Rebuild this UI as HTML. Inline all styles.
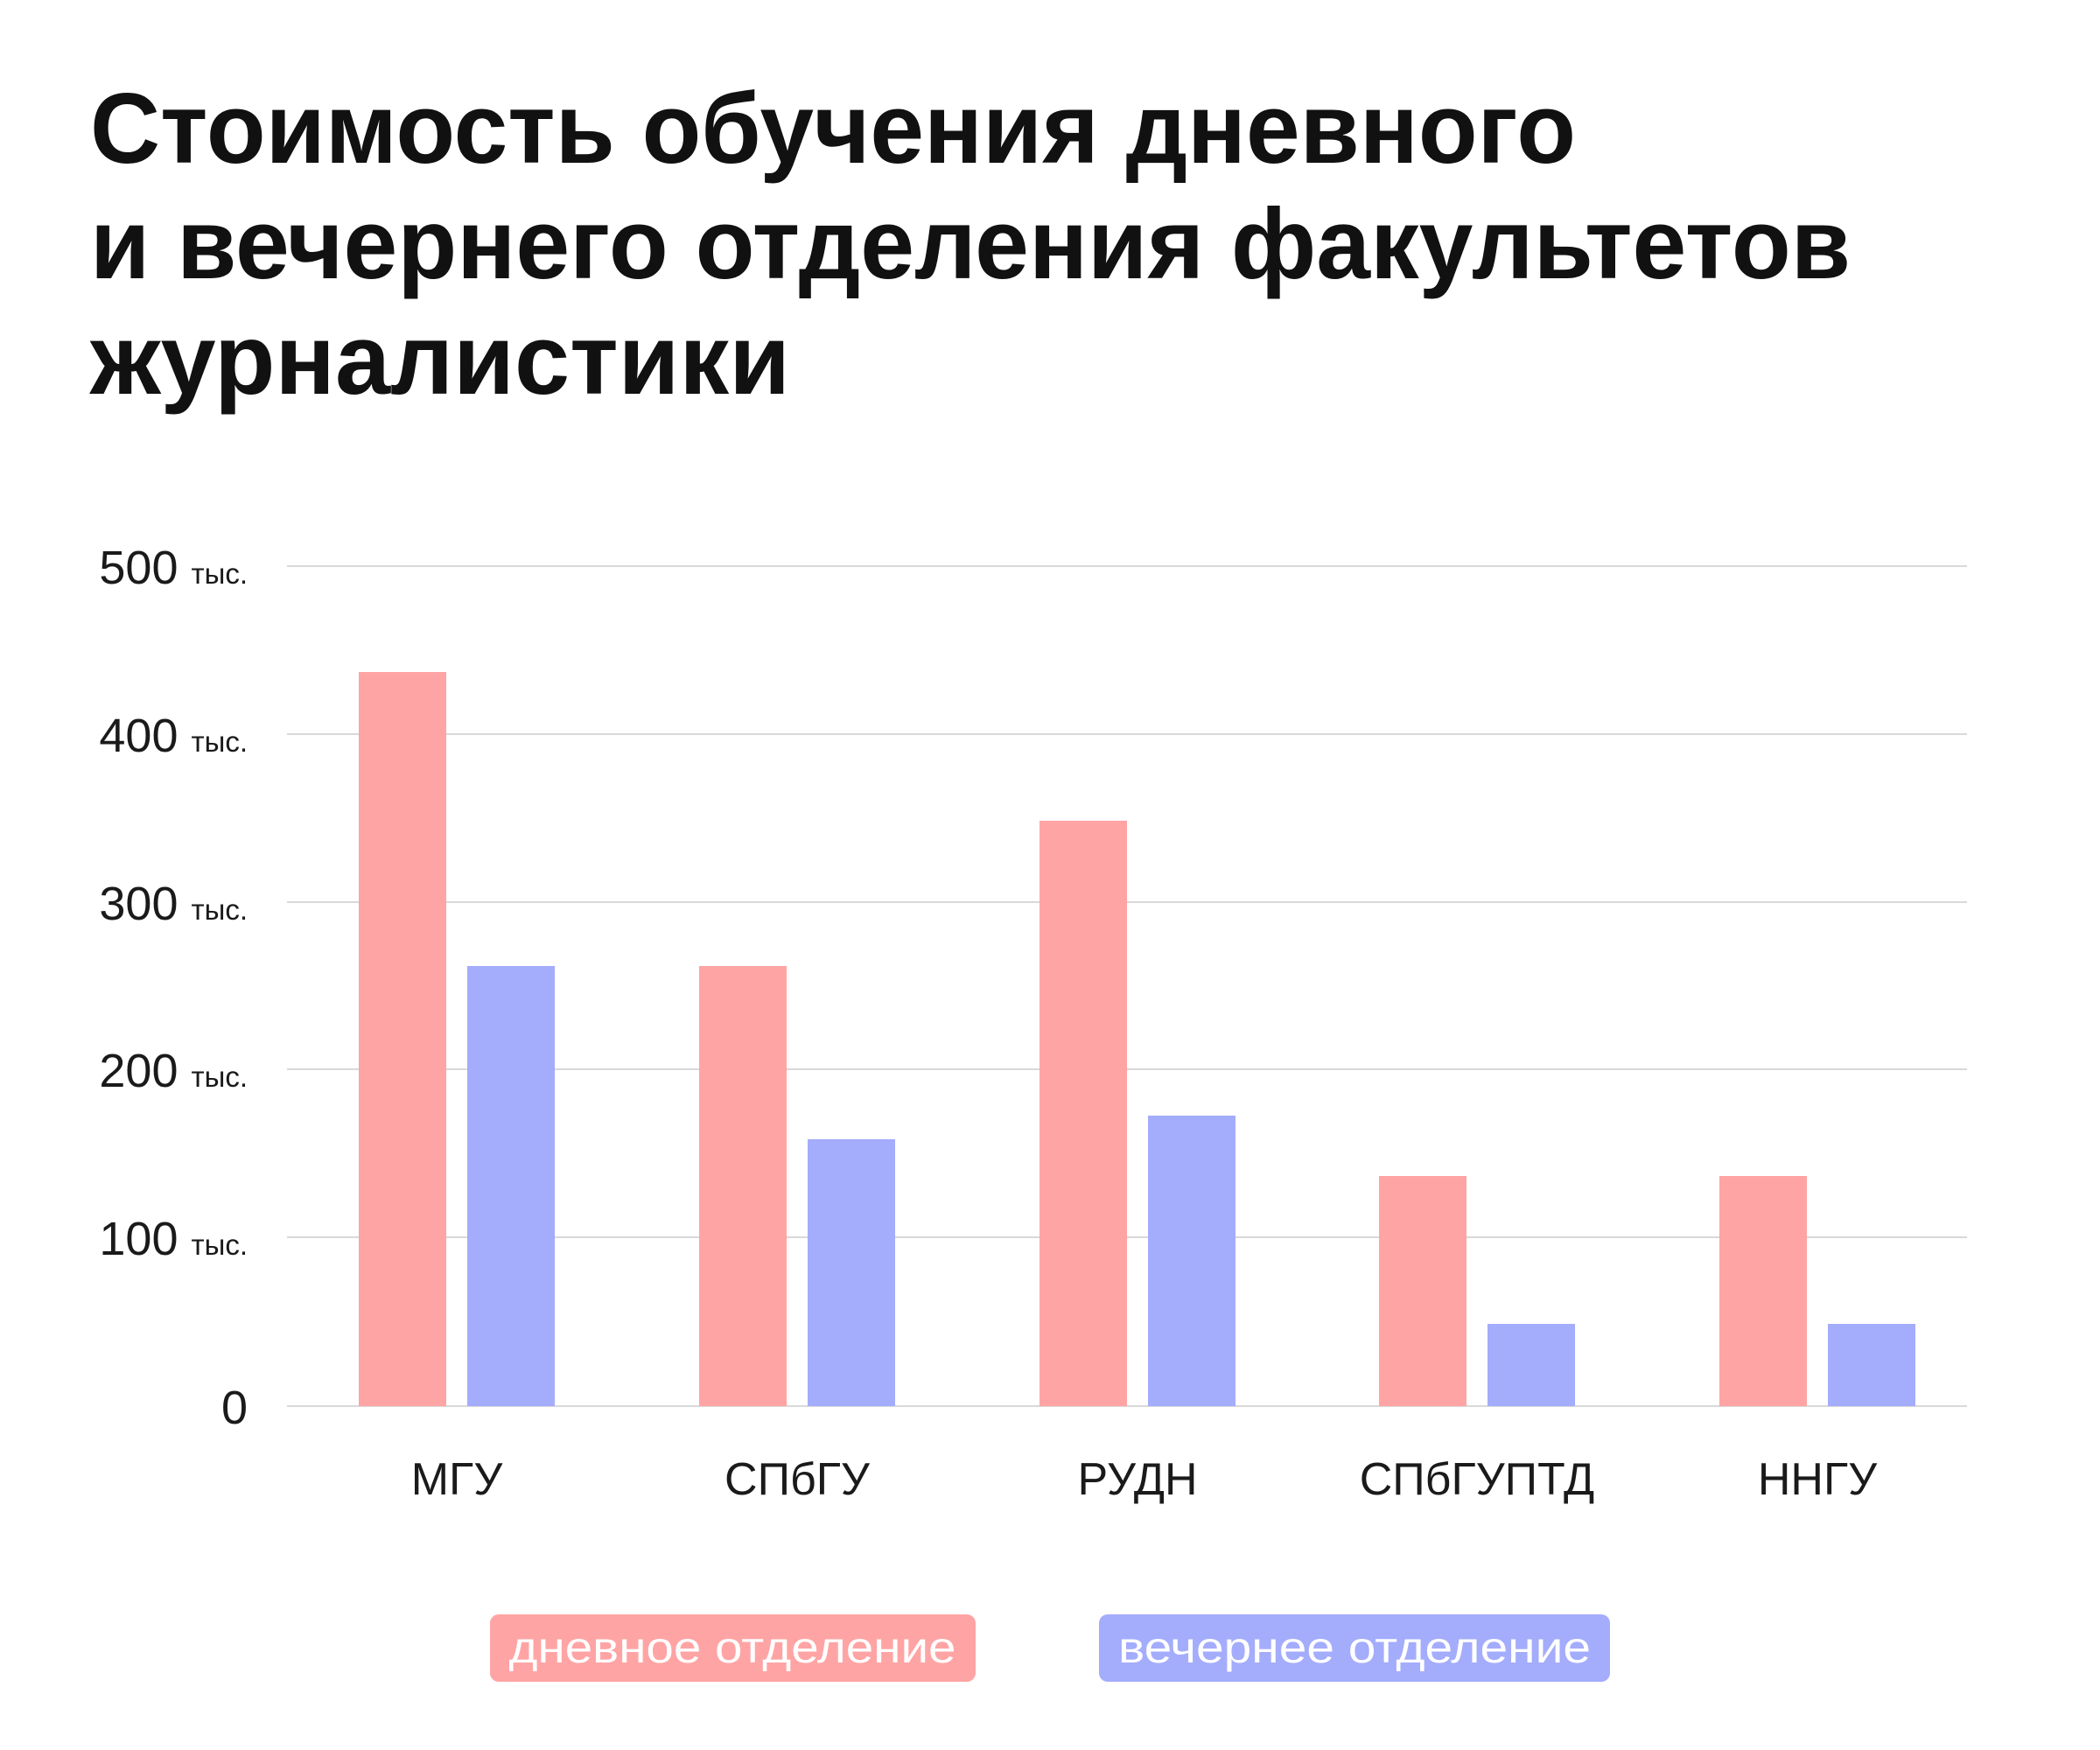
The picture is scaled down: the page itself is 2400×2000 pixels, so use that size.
<!DOCTYPE html>
<html><head><meta charset="utf-8"><style>
html,body{margin:0;padding:0;background:#fff}
svg{display:block}
</style></head><body>
<svg width="2400" height="2000" viewBox="0 0 2400 2000" xmlns="http://www.w3.org/2000/svg" font-family="'Liberation Sans', 'DejaVu Sans', sans-serif">
<rect width="2400" height="2000" fill="#fff"/>
<g font-weight="bold" font-size="114" fill="#111">
<text x="103" y="186" textLength="1698" lengthAdjust="spacingAndGlyphs">Стоимость обучения дневного</text>
<text x="103" y="318" textLength="2012" lengthAdjust="spacingAndGlyphs">и вечернего отделения факультетов</text>
<text x="103" y="450" textLength="800" lengthAdjust="spacingAndGlyphs">журналистики</text>
</g>
<g stroke="#d9d9d9" stroke-width="2">
<line x1="328" x2="2248" y1="647" y2="647"/>
<line x1="328" x2="2248" y1="839" y2="839"/>
<line x1="328" x2="2248" y1="1031" y2="1031"/>
<line x1="328" x2="2248" y1="1222" y2="1222"/>
<line x1="328" x2="2248" y1="1414" y2="1414"/>
<line x1="328" x2="2248" y1="1607" y2="1607"/>
</g>
<g fill="#1a1a1a" text-anchor="end">
<text x="283" y="667"><tspan font-size="54">500 </tspan><tspan font-size="33">тыс.</tspan></text>
<text x="283" y="859"><tspan font-size="54">400 </tspan><tspan font-size="33">тыс.</tspan></text>
<text x="283" y="1051"><tspan font-size="54">300 </tspan><tspan font-size="33">тыс.</tspan></text>
<text x="283" y="1242"><tspan font-size="54">200 </tspan><tspan font-size="33">тыс.</tspan></text>
<text x="283" y="1434"><tspan font-size="54">100 </tspan><tspan font-size="33">тыс.</tspan></text>
<text x="283" y="1627" font-size="54">0</text>
</g>
<g>
<rect x="410" y="768" width="100" height="839" fill="#ffa4a4"/>
<rect x="534" y="1104" width="100" height="503" fill="#a4acfc"/>
<rect x="799" y="1104" width="100" height="503" fill="#ffa4a4"/>
<rect x="923" y="1302" width="100" height="305" fill="#a4acfc"/>
<rect x="1188" y="938" width="100" height="669" fill="#ffa4a4"/>
<rect x="1312" y="1275" width="100" height="332" fill="#a4acfc"/>
<rect x="1576" y="1344" width="100" height="263" fill="#ffa4a4"/>
<rect x="1700" y="1513" width="100" height="94" fill="#a4acfc"/>
<rect x="1965" y="1344" width="100" height="263" fill="#ffa4a4"/>
<rect x="2089" y="1513" width="100" height="94" fill="#a4acfc"/>
</g>
<g fill="#1a1a1a" font-size="52" text-anchor="middle">
<text x="522" y="1708">МГУ</text>
<text x="911" y="1708">СПбГУ</text>
<text x="1300" y="1708">РУДН</text>
<text x="1688" y="1708">СПбГУПТД</text>
<text x="2077" y="1708">ННГУ</text>
</g>
<rect x="560" y="1845" width="555" height="77" rx="10" fill="#ffa4a4"/>
<rect x="1256" y="1845" width="584" height="77" rx="10" fill="#a4acfc"/>
<g fill="#fff" font-size="50" text-anchor="middle">
<text x="837" y="1900" textLength="511" lengthAdjust="spacingAndGlyphs">дневное отделение</text>
<text x="1548" y="1900" textLength="540" lengthAdjust="spacingAndGlyphs">вечернее отделение</text>
</g>
</svg>
</body></html>
